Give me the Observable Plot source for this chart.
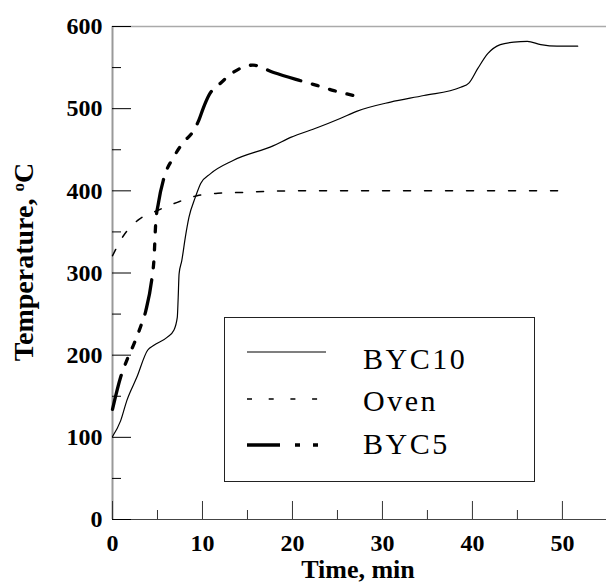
<!DOCTYPE html>
<html><head><meta charset="utf-8">
<script src="https://cdn.jsdelivr.net/npm/d3@7"></script>
<script src="https://cdn.jsdelivr.net/npm/@observablehq/plot@0.6"></script>
<style>
html,body{margin:0;padding:0;background:#fff}
#chart{width:606px;height:584px}
</style>
</head><body><div id="chart"></div>
<script>
// ---- data ----
const seriesNames = ["BYC10", "Oven", "BYC5"];

const byc10Time = [0, 0.9, 1.6, 2.7, 3.9, 4.6, 6.1, 6.8, 7.2, 7.3, 7.4, 7.7, 8.1, 8.5, 9.2, 9.8, 10.9, 13.4, 17.9, 19.8, 22.8, 25.3, 27.2, 30.9, 34.6, 38.7, 39.6, 40.6, 41.7, 43.1, 44.6, 46.1, 47.6, 49.4, 51.7];
const byc10Temp = [101, 120, 145, 173, 206, 212, 222, 230, 246, 270, 299, 315, 344, 368, 392, 409, 421, 437, 455, 465, 477, 488, 497, 508, 516, 526, 531, 549, 567, 578, 581, 582, 578, 576, 576];

const ovenTime = [0, 1.2, 2.8, 5, 7.2, 9.4, 11.7, 14.2, 20, 30, 40, 49.8];
const ovenTemp = [321, 345, 364, 376, 386, 394, 397, 398, 400, 400, 400, 400];

const byc5Time = [0, 0.9, 1.6, 2.4, 3.1, 3.7, 4.4, 4.6, 4.8, 5.1, 5.7, 6.8, 7.8, 9.0, 9.6, 10.1, 10.7, 12.0, 13.4, 15.6, 17.9, 20.9, 22.8, 24.6, 26.8];
const byc5Temp = [134, 173, 194, 214, 234, 254, 295, 315, 360, 385, 415, 441, 458, 473, 486, 501, 516, 531, 544, 553, 544, 534, 528, 522, 516];

const xTicks = [0, 10, 20, 30, 40, 50];
const xMinorTicks = [5, 15, 25, 35, 45];
const yTicks = [0, 100, 200, 300, 400, 500, 600];
const yMinorTicks = [50, 150, 250, 350, 450, 550];

const xTitle = "Time, min";
const yTitle = "Temperature, ";

// ---- build tables ----
const rows = (name, t, v) => t.map((d, i) => ({series: name, time: d, temp: v[i]}));
const byc10 = rows(seriesNames[0], byc10Time, byc10Temp);
const oven = rows(seriesNames[1], ovenTime, ovenTemp);
const byc5 = rows(seriesNames[2], byc5Time, byc5Temp);

const styles = {
  BYC10: {strokeWidth: 1.2, strokeDasharray: null},
  Oven: {strokeWidth: 1.5, strokeDasharray: "7,14"},
  BYC5: {strokeWidth: 3.3, strokeDasharray: "35,12,6,12,6,12,6,12"}
};

const serif = "Liberation Serif";

const plot = Plot.plot({
  width: 606, height: 584,
  marginLeft: 112, marginRight: 0, marginTop: 26, marginBottom: 65,
  x: {domain: [0, 54.9]},
  y: {domain: [0, 600]},
  style: {background: "white", fontFamily: serif, color: "black"},
  marks: [
    // frame lines
    Plot.ruleX([0], {stroke: "#999", strokeWidth: 2}),
    Plot.ruleY([600], {stroke: "#aaa", strokeWidth: 1.6}),
    Plot.ruleY([0], {stroke: "#444", strokeWidth: 1.2}),
    // inward ticks
    Plot.axisY(yTicks, {tickSize: -19, text: null, label: null, stroke: "#000"}),
    Plot.axisY(yMinorTicks, {tickSize: -9, text: null, label: null, stroke: "#000"}),
    Plot.axisX(xTicks, {tickSize: -18, text: null, label: null, stroke: "#333"}),
    Plot.axisX(xMinorTicks, {tickSize: -9, text: null, label: null, stroke: "#333"}),
    // tick labels
    Plot.axisY(yTicks, {tickSize: 0, tickPadding: 10, label: null, fontSize: 24, fontWeight: "bold", fontVariant: "normal", fontFamily: serif, fill: "#000"}),
    Plot.axisX(xTicks, {tickSize: 0, tickPadding: 14, label: null, fontSize: 24, fontWeight: "bold", fontVariant: "normal", fontFamily: serif, fill: "#000"}),
    // series
    Plot.line(byc10, {x: "time", y: "temp", stroke: "#000", curve: "monotone-x", ...styles.BYC10}),
    Plot.line(oven, {x: "time", y: "temp", stroke: "#000", curve: "monotone-x", ...styles.Oven}),
    Plot.line(byc5, {x: "time", y: "temp", stroke: "#000", curve: "monotone-x", ...styles.BYC5})
  ]
});

document.getElementById("chart").appendChild(plot);

// ---- titles ----
const svg = d3.select(plot);
svg.append("text")
  .attr("x", 358).attr("y", 578)
  .attr("text-anchor", "middle")
  .attr("font-weight", "bold").attr("font-size", 26)
  .attr("fill", "#000")
  .text(xTitle);

const yt = svg.append("text")
  .attr("transform", "translate(33,262) rotate(-90)")
  .attr("text-anchor", "middle")
  .attr("font-weight", "bold").attr("font-size", 28)
  .attr("fill", "#000");
yt.append("tspan").text(yTitle);
yt.append("tspan").attr("font-size", 17).attr("dy", -9).text("o");
yt.append("tspan").attr("dy", 9).text("C");

// ---- legend ----
const lg = svg.append("g");
lg.append("rect").attr("x", 224.5).attr("y", 317.5).attr("width", 310).attr("height", 164)
  .attr("fill", "white").attr("stroke", "#222").attr("stroke-width", 1);
const legendRows = [
  {name: seriesNames[0], ly: 352, ty: 369, dash: null, w: 1.2, x2: 326},
  {name: seriesNames[1], ly: 399, ty: 411, dash: "5,16.7", w: 1.5, x2: 318},
  {name: seriesNames[2], ly: 445, ty: 454, dash: "33,15,5,13,5,100", w: 3.3, x2: 318}
];
legendRows.forEach(r => {
  lg.append("line").attr("x1", 247).attr("x2", r.x2).attr("y1", r.ly).attr("y2", r.ly)
    .attr("stroke", "#000").attr("stroke-width", r.w)
    .attr("stroke-dasharray", r.dash);
  lg.append("text").attr("x", 363).attr("y", r.ty)
    .attr("text-anchor", "start")
    .attr("font-size", 30).attr("letter-spacing", 2.5)
    .attr("fill", "#000").text(r.name);
});

// force the serif face on every text of the chart
svg.selectAll("text").attr("font-family", serif).style("font-family", "'Liberation Serif', serif").style("font-variant", "normal");
</script>
</body></html>
